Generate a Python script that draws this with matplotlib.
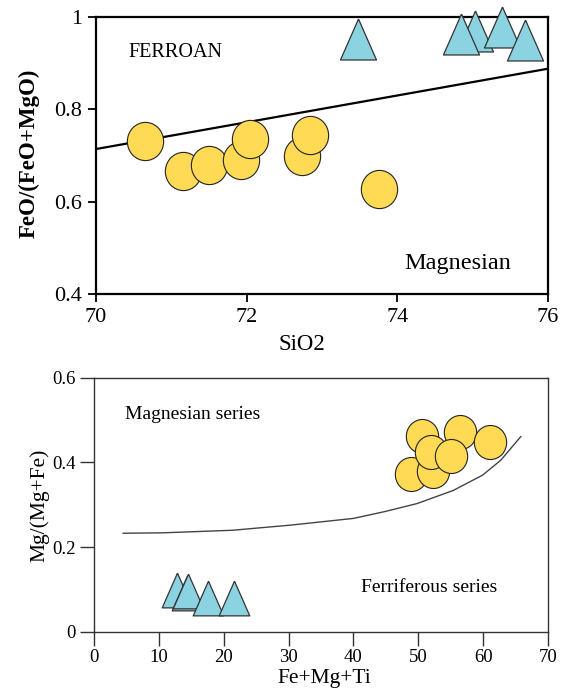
import matplotlib
matplotlib.use('Agg')
import matplotlib.pyplot as plt
import matplotlib.transforms as mt
from matplotlib.path import Path

plt.rcParams['font.family'] = ['Liberation Serif', 'DejaVu Serif']

#####################################################
# data --->

# top diagram: FeO/(FeO+MgO) vs SiO2
sio2_circ = [70.65, 71.16, 71.50, 71.93, 72.05, 72.74, 72.84, 73.75]
feo_circ = [0.731, 0.667, 0.679, 0.690, 0.735, 0.699, 0.745, 0.627]
sio2_tri = [73.48, 75.03, 74.84, 75.39, 75.70]
feo_tri = [0.953, 0.969, 0.964, 0.978, 0.951]
# ferroan / magnesian boundary
sio2_line = [70., 76.]
feo_line = [0.714, 0.888]

# bottom diagram: Mg/(Mg+Fe) vs Fe+Mg+Ti
femgti_circ = [48.8, 52.2, 50.5, 56.4, 61.0, 52.0, 55.1]
mg_circ = [0.372, 0.379, 0.462, 0.471, 0.449, 0.425, 0.415]
femgti_tri = [12.8, 14.3, 14.5, 17.5, 21.6]
mg_tri = [0.100, 0.091, 0.097, 0.080, 0.080]
# magnesian / ferriferous boundary
femgti_curve = [4.5, 10.6, 21.3, 30.2, 40.0, 44.8, 49.8, 55.4, 59.9, 62.7, 65.8]
mg_curve = [0.233, 0.234, 0.240, 0.252, 0.268, 0.284, 0.303, 0.334, 0.370, 0.405, 0.461]

top_xticks = [70, 72, 74, 76]
top_yticks = [0.4, 0.6, 0.8, 1.0]
top_yticklabels = ['0.4', '0.6', '0.8', '1']
bot_xticks = [0, 10, 20, 30, 40, 50, 60, 70]
bot_yticks = [0, 0.2, 0.4, 0.6]
bot_yticklabels = ['0', '0.2', '0.4', '0.6']

# <--- data
#####################################################

yellow = '#FFDA55'
blue = '#8CD3E1'
# slightly tall markers, as in the original
ellipse = Path.unit_circle().transformed(mt.Affine2D().scale(0.95, 1.))
tri = [(0., 1.), (-0.88, -1.), (0.88, -1.), (0., 1.)]

W, H = 568, 688
fig = plt.figure(figsize=(W/100., H/100.), dpi=100)

#############################
# TOP PLOT --->
ax1 = fig.add_axes([96./W, 1-294./H, 452./W, 277./H])
ax1.plot(sio2_line, feo_line, color='k', lw=1.6, zorder=2)
for x, y in zip(sio2_circ, feo_circ):
	ax1.plot(x, y, marker=ellipse, ms=27.5, mfc=yellow, mec='#222222', mew=0.8,
		ls='none', zorder=3, clip_on=False)
for x, y in zip(sio2_tri, feo_tri):
	ax1.plot(x, y, marker=tri, ms=29.5, mfc=blue, mec='#333333', mew=0.9,
		ls='none', zorder=4, clip_on=False)

ax1.set_xlim(70, 76)
ax1.set_ylim(0.4, 1.0)
ax1.set_xticks(top_xticks)
ax1.set_xticklabels([str(t) for t in top_xticks])
ax1.set_yticks(top_yticks)
ax1.set_yticklabels(top_yticklabels)
ax1.tick_params(direction='out', length=6, width=1.3, labelsize=16, pad=4)
for s in ax1.spines.values():
	s.set_linewidth(1.6)
ax1.text(70.43, 0.924, 'FERROAN', fontsize=14.5, va='center')
ax1.text(74.09, 0.466, 'Magnesian', fontsize=17.5, va='center')
fig.text(29./W, 1-153./H, 'FeO/(FeO+MgO)', rotation=90, fontsize=16.5,
	fontweight='bold', ha='center', va='center')
fig.text(302./W, 1-345./H, 'SiO2', fontsize=16.5, ha='center', va='center')

# <--- TOP PLOT
#############################

#############################
# BOTTOM PLOT --->
ax2 = fig.add_axes([94./W, 1-632./H, 454./W, 254.3/H])
ax2.plot(femgti_curve, mg_curve, color='#444444', lw=1.0, zorder=2)
for x, y in zip(femgti_circ, mg_circ):
	ax2.plot(x, y, marker=ellipse, ms=24.5, mfc=yellow, mec='#222222', mew=0.8,
		ls='none', zorder=3)
for x, y in zip(femgti_tri, mg_tri):
	ax2.plot(x, y, marker=tri, ms=25, mfc=blue, mec='#333333', mew=0.9,
		ls='none', zorder=4)

ax2.set_xlim(0, 70)
ax2.set_ylim(0, 0.6)
ax2.set_xticks(bot_xticks)
ax2.set_xticklabels([str(t) for t in bot_xticks])
ax2.set_yticks(bot_yticks)
ax2.set_yticklabels(bot_yticklabels)
ax2.tick_params(direction='out', length=10, width=1.0, color='#333333',
	labelsize=13.5, pad=3)
ax2.tick_params(axis='x', pad=2)
for s in ax2.spines.values():
	s.set_linewidth(1.0)
	s.set_color('#333333')
ax2.text(4.76, 0.5125, 'Magnesian series', fontsize=14, va='center')
ax2.text(41.2, 0.104, 'Ferriferous series', fontsize=14, va='center')
fig.text(40./W, 1-505./H, 'Mg/(Mg+Fe)', rotation=90, fontsize=15.5,
	ha='center', va='center')
fig.text(324./W, 1-678./H, 'Fe+Mg+Ti', fontsize=15.5, ha='center', va='center')

# <--- BOTTOM PLOT
#############################

fig.savefig('out.png', dpi=100)
